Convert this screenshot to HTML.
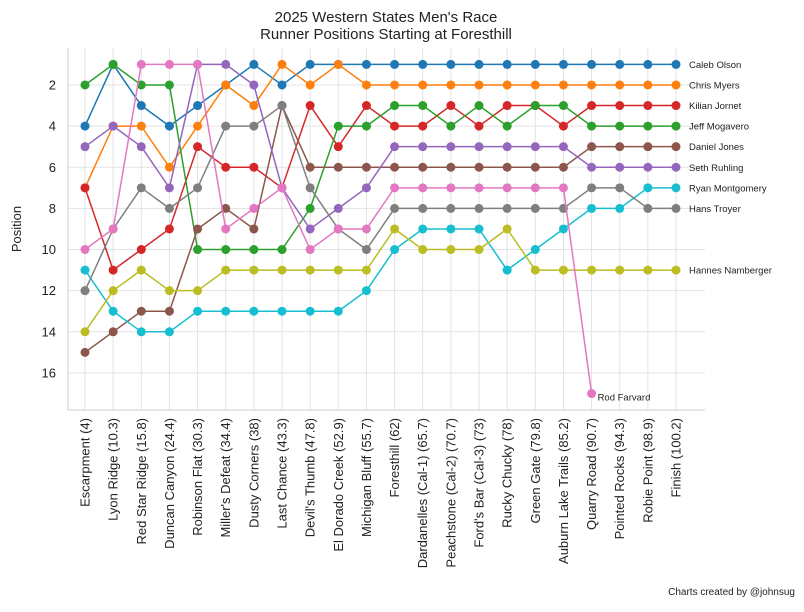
<!DOCTYPE html>
<html><head><meta charset="utf-8"><style>
body{margin:0;background:#fff;font-family:"Liberation Sans",sans-serif}
svg text{font-family:"Liberation Sans",sans-serif}
</style></head><body>
<svg id="chart" width="804" height="607" xmlns="http://www.w3.org/2000/svg">
<text x="386" y="22" text-anchor="middle" font-size="15" fill="#222">2025 Western States Men's Race</text>
<text x="386" y="39" text-anchor="middle" font-size="15" fill="#222">Runner Positions Starting at Foresthill</text>
<text transform="translate(21,229) rotate(-90)" text-anchor="middle" font-size="13" fill="#222">Position</text>
<text x="795" y="595" text-anchor="end" font-size="10" fill="#222">Charts created by @johnsug</text>
<g id="grid"></g><g id="series"></g><g id="axes"></g>
</svg>
<script>
const categories=["Escarpment (4)","Lyon Ridge (10.3)","Red Star Ridge (15.8)","Duncan Canyon (24.4)","Robinson Flat (30.3)","Miller's Defeat (34.4)","Dusty Corners (38)","Last Chance (43.3)","Devil's Thumb (47.8)","El Dorado Creek (52.9)","Michigan Bluff (55.7)","Foresthill (62)","Dardanelles (Cal-1) (65.7)","Peachstone (Cal-2) (70.7)","Ford's Bar (Cal-3) (73)","Rucky Chucky (78)","Green Gate (79.8)","Auburn Lake Trails (85.2)","Quarry Road (90.7)","Pointed Rocks (94.3)","Robie Point (98.9)","Finish (100.2)"];
const runners=["Caleb Olson","Chris Myers","Kilian Jornet","Jeff Mogavero","Daniel Jones","Seth Ruhling","Ryan Montgomery","Hans Troyer","Hannes Namberger","Rod Farvard"];
const colors=["#1f77b4","#ff7f0e","#d62728","#2ca02c","#8c564b","#9467bd","#17becf","#7f7f7f","#bcbd22","#e377c2"];
const caleb=[4,1,3,4,3,2,1,2,1,1,1,1,1,1,1,1,1,1,1,1,1,1];
const chris=[7,4,4,6,4,2,3,1,2,1,2,2,2,2,2,2,2,2,2,2,2,2];
const kilian=[7,11,10,9,5,6,6,7,3,5,3,4,4,3,4,3,3,4,3,3,3,3];
const jeff=[2,1,2,2,10,10,10,10,8,4,4,3,3,4,3,4,3,3,4,4,4,4];
const daniel=[15,14,13,13,9,8,9,3,6,6,6,6,6,6,6,6,6,6,5,5,5,5];
const seth=[5,4,5,7,1,1,2,7,9,8,7,5,5,5,5,5,5,5,6,6,6,6];
const ryan=[11,13,14,14,13,13,13,13,13,13,12,10,9,9,9,11,10,9,8,8,7,7];
const hans=[12,9,7,8,7,4,4,3,7,9,10,8,8,8,8,8,8,8,7,7,8,8];
const hannes=[14,12,11,12,12,11,11,11,11,11,11,9,10,10,10,9,11,11,11,11,11,11];
const rod=[10,9,1,1,1,9,8,7,10,9,9,7,7,7,7,7,7,7,17];
const yTicks=[2,4,6,8,10,12,14,16];
const seriesList=[caleb,chris,kilian,jeff,daniel,seth,ryan,hans,hannes,rod];
const NS="http://www.w3.org/2000/svg";
const L=68,R=705,T=48,B=410;
const x=i=>85+i*(676-85)/(categories.length-1);
const y=p=>64.4+(p-1)*20.57;
function mk(tag,attrs,parent){const e=document.createElementNS(NS,tag);for(const k in attrs)e.setAttribute(k,attrs[k]);parent.appendChild(e);return e;}
const grid=document.getElementById('grid'),ser=document.getElementById('series'),ax=document.getElementById('axes');
categories.forEach((c,i)=>{
  const g=mk('line',{x1:x(i),x2:x(i),y1:T,y2:B,stroke:'#e3e3e3','stroke-width':1},grid);
  
  
  const t=mk('text',{transform:`translate(${x(i)+4.5},418) rotate(-90)`,'text-anchor':'end','font-size':13,fill:'#222'},ax);
  t.textContent=c;
  
  
});
yTicks.forEach(v=>{
  const g=mk('line',{x1:L,x2:R,y1:y(v),y2:y(v),stroke:'#e3e3e3','stroke-width':1},grid);
  
  
  const t=mk('text',{x:L-12,y:y(v)+4.5,'text-anchor':'end','font-size':13,fill:'#222'},ax);
  t.textContent=v;
  
  
});
const sl=mk('line',{x1:L,x2:L,y1:T,y2:B,stroke:'#ccc','stroke-width':1},ax);


const sb=mk('line',{x1:L,x2:R,y1:B,y2:B,stroke:'#ccc','stroke-width':1},ax);


seriesList.forEach((d,s)=>{
  const g=mk('g',{},ser);
  
  
  const pl=mk('polyline',{points:d.map((v,i)=>x(i)+','+y(v)).join(' '),fill:'none',stroke:colors[s],'stroke-width':1.5},g);
  
  
  d.forEach((v,i)=>{
    const c=mk('circle',{cx:x(i),cy:y(v),r:4.5,fill:colors[s]},g);
    
    
  });
  const last=d.length-1;
  const isEnd=last===categories.length-1;
  const lb=mk('text',{x:isEnd?689:x(last)+6,y:isEnd?y(d[last])+3.5:y(d[last])+7,'font-size':9.5,fill:'#222'},g);
  lb.textContent=runners[s];
  
  
});
</script>
</body></html>
